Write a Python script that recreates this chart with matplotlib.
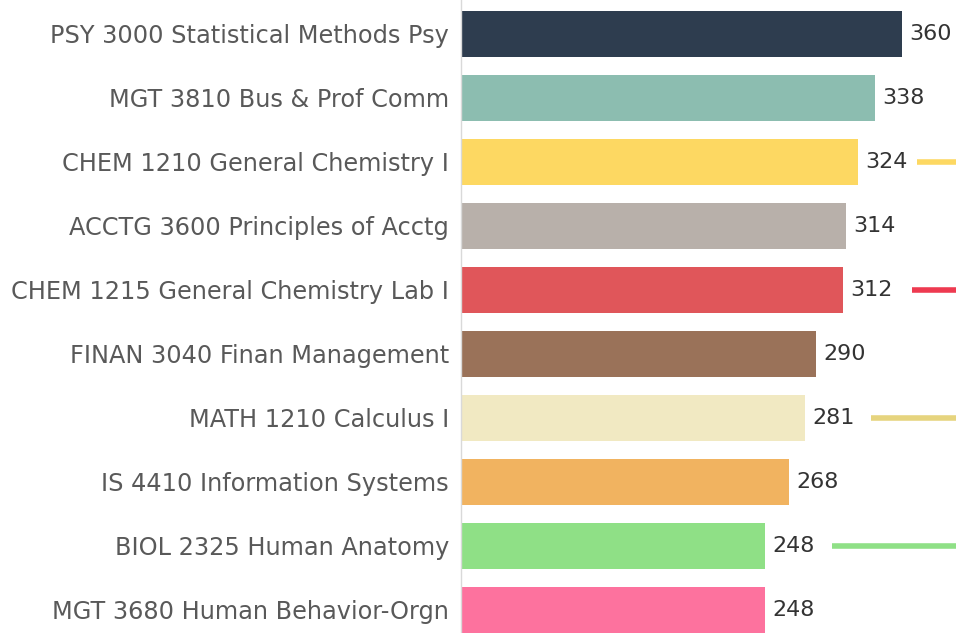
import numpy as np
import matplotlib.pyplot as plt

courses = [
    "PSY 3000 Statistical Methods Psy",
    "MGT 3810 Bus & Prof Comm",
    "CHEM 1210 General Chemistry I",
    "ACCTG 3600 Principles of Acctg",
    "CHEM 1215 General Chemistry Lab I",
    "FINAN 3040 Finan Management",
    "MATH 1210 Calculus I",
    "IS 4410 Information Systems",
    "BIOL 2325 Human Anatomy",
    "MGT 3680 Human Behavior-Orgn",
]
enrolled = [360, 338, 324, 314, 312, 290, 281, 268, 248, 248]
bar_colors = ["#2E3D4F", "#8CBDB0", "#FDD862", "#B8B0AA", "#E0565A",
              "#9A7259", "#F1E9C2", "#F1B360", "#8FE086", "#FD729E"]

# partial trend marks cut off at the right edge (row, start value, colour)
trend_rows = [2, 4, 6, 8]
trend_start = [372, 368, 335, 303]
trend_colors = ["#FDD862", "#EE3A50", "#E6D47E", "#8FE086"]

fig = plt.figure(figsize=(9.56, 6.33), dpi=100)
ax = fig.add_axes([0.4822, 0, 0.5178, 1])

ind = np.arange(len(courses))
ax.barh(ind, enrolled, height=0.73, color=bar_colors)
for i, v in zip(ind, enrolled):
    ax.text(v + 6, i, str(v), va="center", ha="left", fontsize=16, color="#333333")
for r, s, c in zip(trend_rows, trend_start, trend_colors):
    ax.plot([s, 410], [r, r], color=c, lw=4, solid_capstyle="butt", clip_on=True)

ax.set_xlim(0, 404)
ax.set_ylim(9.36, -0.53)
ax.set_yticks(ind)
ax.set_yticklabels(courses, fontsize=17.3, color="#595959")
ax.tick_params(axis="y", length=0, pad=8.6)
ax.set_xticks([])
for s in ["top", "right", "bottom"]:
    ax.spines[s].set_visible(False)
ax.spines["left"].set_color("#D9D9D9")
ax.spines["left"].set_linewidth(1)

fig.savefig("out.png", dpi=100)
